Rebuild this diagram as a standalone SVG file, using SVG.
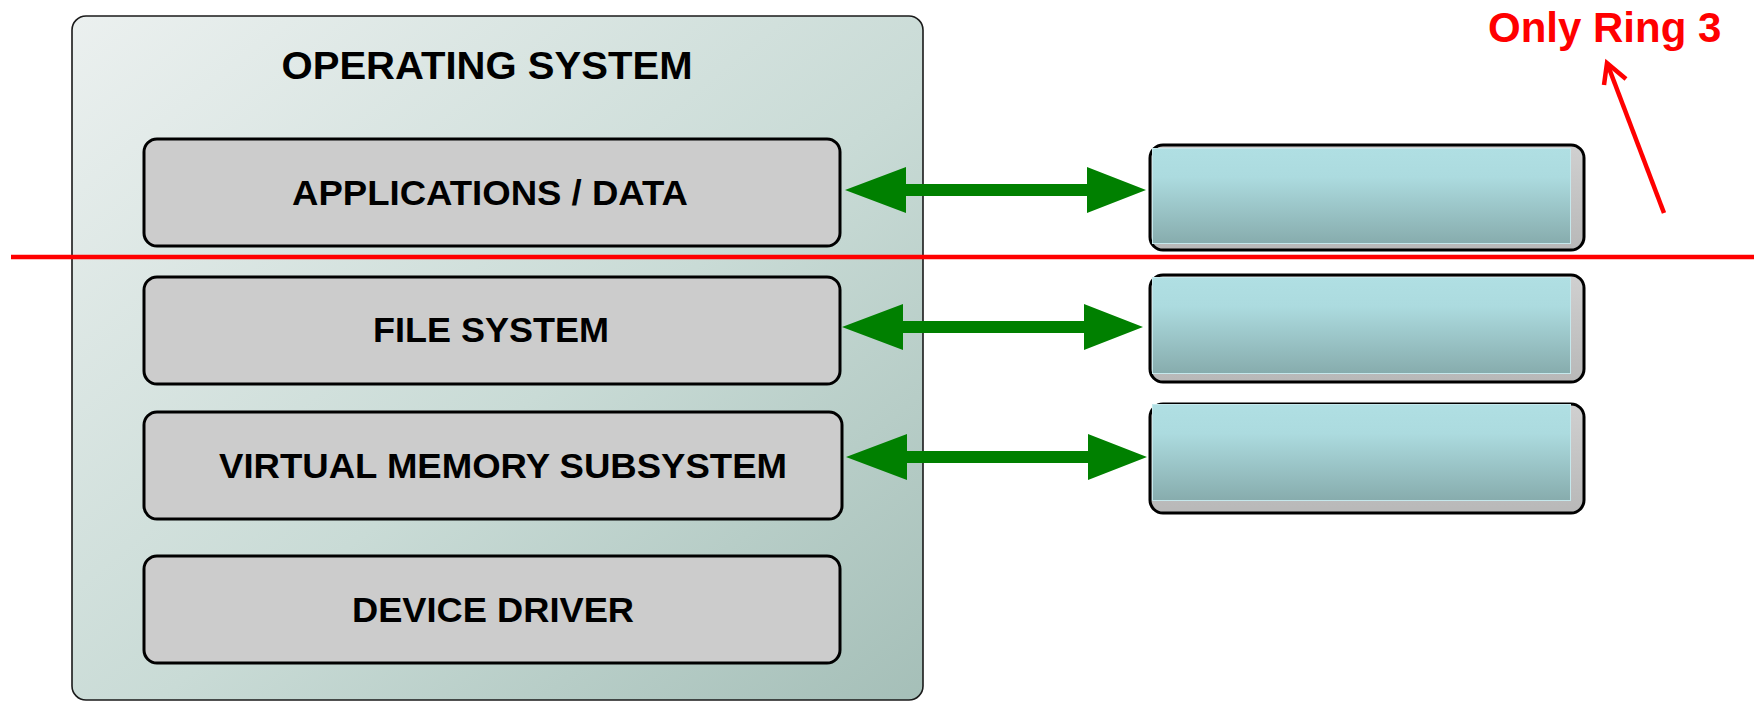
<svg xmlns="http://www.w3.org/2000/svg" width="1760" height="701" viewBox="0 0 1760 701">
  <defs>
    <linearGradient id="osFill" x1="0" y1="0" x2="1" y2="1">
      <stop offset="0" stop-color="#ebf0ef"/>
      <stop offset="0.55" stop-color="#c9dbd6"/>
      <stop offset="1" stop-color="#a5bfb8"/>
    </linearGradient>
    <linearGradient id="tealFill" x1="0" y1="0" x2="0" y2="1">
      <stop offset="0" stop-color="#b0dfe3"/>
      <stop offset="0.3" stop-color="#acdbdf"/>
      <stop offset="1" stop-color="#87acad"/>
    </linearGradient>
    <linearGradient id="shadowFill" x1="0" y1="0" x2="0" y2="1">
      <stop offset="0" stop-color="#d0d0d0"/>
      <stop offset="1" stop-color="#b8b8b8"/>
    </linearGradient>
    <path id="dblArrow" d="M0,0 L61,-23 L61,-6 L242,-6 L242,-23 L301,0 L242,23 L242,6 L61,6 L61,23 Z"/>
    <style>
      .layer { fill: #cccccc; stroke: #000000; stroke-width: 3; }
      .label { font-family: "Liberation Sans", Arial, sans-serif; font-weight: bold; fill: #000000; text-anchor: middle; }
      .slot { fill: url(#shadowFill); stroke: #000000; stroke-width: 3; }
      .slotFace { fill: url(#tealFill); stroke: #c6e8ec; stroke-width: 1; }
      .link { fill: #008000; }
      .ring { stroke: #ff0000; stroke-width: 4.5; fill: none; }
    </style>
  </defs>

  <rect width="1760" height="701" fill="#ffffff"/>

  <!-- operating system container -->
  <g id="os">
    <rect x="72" y="16" width="851" height="684" rx="14" fill="url(#osFill)" stroke="#1a1a1a" stroke-width="1.6"/>
    <text class="label" x="487" y="79" font-size="38" textLength="411" lengthAdjust="spacingAndGlyphs">OPERATING SYSTEM</text>
  </g>

  <g id="applications">
    <rect class="layer" x="144" y="139" width="696" height="107" rx="13"/>
    <text class="label" x="490" y="205" font-size="34.5" textLength="396" lengthAdjust="spacingAndGlyphs">APPLICATIONS / DATA</text>
  </g>

  <g id="file-system">
    <rect class="layer" x="144" y="277" width="696" height="107" rx="13"/>
    <text class="label" x="491" y="342" font-size="34.5" textLength="236" lengthAdjust="spacingAndGlyphs">FILE SYSTEM</text>
  </g>

  <g id="virtual-memory">
    <rect class="layer" x="144" y="412" width="698" height="107" rx="13"/>
    <text class="label" x="503" y="478" font-size="34.5" textLength="568" lengthAdjust="spacingAndGlyphs">VIRTUAL MEMORY SUBSYSTEM</text>
  </g>

  <g id="device-driver">
    <rect class="layer" x="144" y="556" width="696" height="107" rx="13"/>
    <text class="label" x="493" y="622" font-size="34.5" textLength="282" lengthAdjust="spacingAndGlyphs">DEVICE DRIVER</text>
  </g>

  <!-- right-hand blocks -->
  <g id="block-1">
    <rect class="slot" x="1150" y="145" width="434" height="105" rx="13"/>
    <rect class="slotFace" x="1152.5" y="148.5" width="418" height="95"/>
  </g>

  <g id="block-2">
    <rect class="slot" x="1150" y="275" width="434" height="107" rx="13"/>
    <rect class="slotFace" x="1152.5" y="277.5" width="418" height="96"/>
  </g>

  <g id="block-3">
    <rect class="slot" x="1150" y="404" width="434" height="109" rx="13"/>
    <rect class="slotFace" x="1152.5" y="404.5" width="418" height="96"/>
  </g>

  <!-- connectors -->
  <g id="connectors">
    <use href="#dblArrow" class="link" transform="translate(845,190)"/>
    <use href="#dblArrow" class="link" transform="translate(842,327)"/>
    <use href="#dblArrow" class="link" transform="translate(846,457)"/>
  </g>

  <!-- ring boundary -->
  <g id="ring-boundary">
    <line class="ring" x1="11" y1="257" x2="1754" y2="257"/>
    <line class="ring" x1="1664" y1="213" x2="1607" y2="63"/>
    <polyline class="ring" points="1604,85 1607,63 1626,79"/>
    <text x="1488" y="42" font-family="Liberation Sans, Arial, sans-serif" font-weight="bold" font-size="42" fill="#ff0000">Only Ring 3</text>
  </g>
</svg>
